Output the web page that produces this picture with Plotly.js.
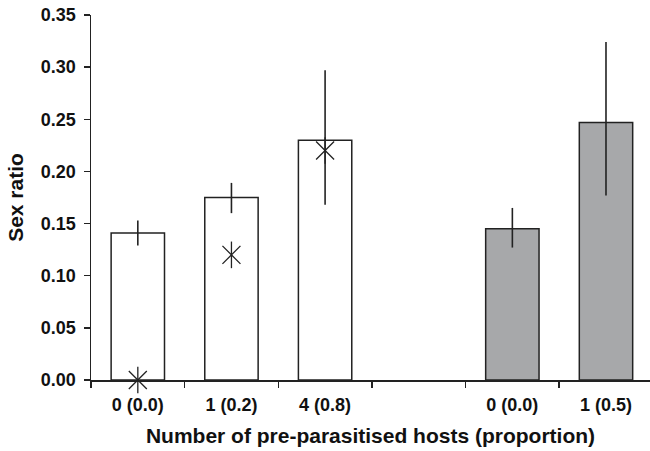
<!DOCTYPE html>
<html>
<head>
<meta charset="utf-8">
<script src="https://cdn.plot.ly/plotly-3.0.1.min.js"></script>
<style>html,body{margin:0;padding:0;overflow:hidden;background:#fff}</style>
</head>
<body>
<div id="chart" style="width:650px;height:451px"></div>
<script>
// Group 1 (white bars)
const labelsA = ['0 (0.0)', '1 (0.2)', '4 (0.8)'];
const valuesA = [0.141, 0.175, 0.230];
const errPlusA = [0.012, 0.014, 0.067];
const errMinusA = [0.012, 0.015, 0.062];
const starsA = [0.0, 0.12, 0.22];
// Group 2 (grey bars)
const labelsB = ['0 (0.0)', '1 (0.5)'];
const valuesB = [0.145, 0.247];
const errPlusB = [0.020, 0.077];
const errMinusB = [0.018, 0.070];

const xA = labelsA.map((_, i) => i);
const xB = labelsB.map((_, i) => i + labelsA.length + 1);
const nSlots = labelsA.length + 1 + labelsB.length;
const boundaries = Array.from({length: nSlots + 1}, (_, i) => i - 0.5);

const ink = '#222222';
const errStyle = (p, m) => ({type: 'data', array: p, arrayminus: m, symmetric: false,
  color: ink, thickness: 1.6, width: 0});

const traces = [
  {type: 'bar', x: xA, y: valuesA, width: 0.57,
   marker: {color: '#ffffff', line: {color: ink, width: 1.5}},
   error_y: errStyle(errPlusA, errMinusA), hoverinfo: 'none'},
  {type: 'bar', x: xB, y: valuesB, width: 0.57,
   marker: {color: '#a7a8aa', line: {color: ink, width: 1.5}},
   error_y: errStyle(errPlusB, errMinusB), hoverinfo: 'none'},
  {type: 'scatter', mode: 'markers', x: xA, y: starsA, cliponaxis: false,
   marker: {symbol: 'x-thin-open', size: 18, color: ink, line: {color: ink, width: 1.3}}, hoverinfo: 'none'},
  {type: 'scatter', mode: 'markers', x: xA, y: starsA, cliponaxis: false,
   marker: {symbol: 'line-ns-open', size: 19, color: ink, line: {color: ink, width: 1.3}}, hoverinfo: 'none'}
];

const FAM = 'Liberation Sans, Arial, sans-serif';
const tickFont = {family: FAM, size: 18, color: '#111', weight: 'bold'};
const layout = {
  width: 650, height: 451,
  margin: {l: 91, r: 0, t: 15, b: 71},
  showlegend: false,
  barmode: 'overlay',
  paper_bgcolor: '#fff', plot_bgcolor: '#fff',
  xaxis: {
    range: [-0.5, nSlots - 0.53],
    tickmode: 'array', tickvals: xA.concat(xB), ticktext: labelsA.concat(labelsB),
    ticks: '', showgrid: false, zeroline: false,
    showline: true, linecolor: ink, linewidth: 1.5,
    tickfont: tickFont, ticklabelstandoff: 8,
    minor: {tickmode: 'array', tickvals: boundaries, ticks: 'outside', ticklen: 6, tickwidth: 1.5, tickcolor: ink, showgrid: false},
    title: {text: 'Number of pre-parasitised hosts (proportion)', standoff: 14,
      font: {family: FAM, size: 21, color: '#111', weight: 'bold'}}
  },
  yaxis: {
    range: [0, 0.35], dtick: 0.05, tick0: 0, tickformat: '.2f',
    ticks: 'outside', ticklen: 6, tickwidth: 1.5, tickcolor: ink,
    showgrid: false, zeroline: false,
    showline: true, linecolor: ink, linewidth: 1.5,
    tickfont: tickFont, ticklabelstandoff: 4,
    title: {text: 'Sex ratio', standoff: 11,
      font: {family: FAM, size: 21, color: '#111', weight: 'bold'}}
  }
};

Plotly.newPlot('chart', traces, layout, {staticPlot: true, displayModeBar: false});
</script>
</body>
</html>
